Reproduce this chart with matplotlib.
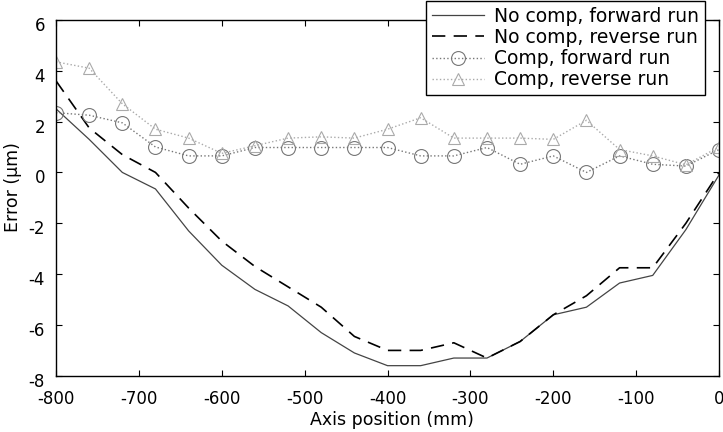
import numpy as np
import matplotlib.pyplot as plt
import matplotlib.transforms as mtransforms

plt.rcParams['font.family'] = ['DejaVu Sans']
plt.rcParams['axes.unicode_minus'] = False

# axis positions (mm), every 40 mm
pos = [-800, -760, -720, -680, -640, -600, -560, -520, -480, -440, -400,
       -360, -320, -280, -240, -200, -160, -120, -80, -40, 0]

nocomp_fwd = [2.5, 1.3, 0.0, -0.65, -2.3, -3.65, -4.6, -5.25, -6.3, -7.1, -7.6,
              -7.6, -7.3, -7.3, -6.65, -5.6, -5.3, -4.35, -4.05, -2.25, -0.1]
nocomp_rev = [3.6, 1.75, 0.7, 0.0, -1.4, -2.7, -3.7, -4.5, -5.3, -6.45, -7.0,
              -7.0, -6.7, -7.3, -6.65, -5.6, -4.85, -3.75, -3.75, -2.0, 0.0]
comp_fwd = [2.35, 2.25, 1.95, 1.0, 0.65, 0.65, 0.98, 0.98, 0.98, 0.98, 0.98,
            0.65, 0.65, 0.98, 0.32, 0.65, 0.0, 0.65, 0.32, 0.25, 0.9]
comp_rev = [4.35, 4.1, 2.7, 1.7, 1.35, 0.75, 1.05, 1.35, 1.4, 1.35, 1.7,
            2.15, 1.35, 1.35, 1.35, 1.3, 2.05, 0.9, 0.65, 0.3, 1.0]

fig = plt.figure(figsize=(7.23, 4.32), dpi=100)
ax = fig.add_axes([0.0775, 0.13, 0.917, 0.824])

ax.plot(pos, nocomp_fwd, '-', color='#444444', lw=0.9, label='No comp, forward run')
ax.plot(pos, nocomp_rev, '--', color='black', lw=1.2, dashes=(8, 5), label='No comp, reverse run')
ax.plot(pos, comp_fwd, ':', color='#777777', lw=1.0, marker='o', ms=10,
        mfc='none', mec='#777777', mew=0.8, label='Comp, forward run')
ax.plot(pos, comp_rev, ':', color='#aaaaaa', lw=1.0, marker='^', ms=9,
        mfc='none', mec='#aaaaaa', mew=0.8, label='Comp, reverse run')

ax.set_xlim(-800, 0)
ax.set_ylim(-8, 6)
ax.set_xticks(range(-800, 1, 100))
ax.set_yticks(range(-8, 7, 2))
ax.tick_params(direction='in', top=True, right=True, labelsize=12, length=4)
ax.tick_params(axis='x', pad=10)
ax.tick_params(axis='y', pad=8)
# y tick labels sit a little low in the original
off = mtransforms.ScaledTranslation(0, -4 / 100, fig.dpi_scale_trans)
for lab in ax.get_yticklabels():
    lab.set_transform(lab.get_transform() + off)
for s in ax.spines.values():
    s.set_linewidth(1.0)

ax.set_xlabel('Axis position (mm)', fontsize=12.5)
ax.set_ylabel('Error (\u03bcm)', fontsize=12.5)
ax.xaxis.set_label_coords(0.507, -0.1)
ax.yaxis.set_label_coords(-0.052, 0.53)

leg = ax.legend(loc='upper right', bbox_to_anchor=(0.979, 1.053), fontsize=13.5,
                frameon=True, fancybox=False, edgecolor='black', framealpha=1,
                handlelength=2.8, handletextpad=0.55, borderpad=0.3,
                labelspacing=0.12, borderaxespad=0)
leg.get_frame().set_linewidth(1.0)
leg.set_clip_on(False)

fig.savefig('out.png', dpi=100)
